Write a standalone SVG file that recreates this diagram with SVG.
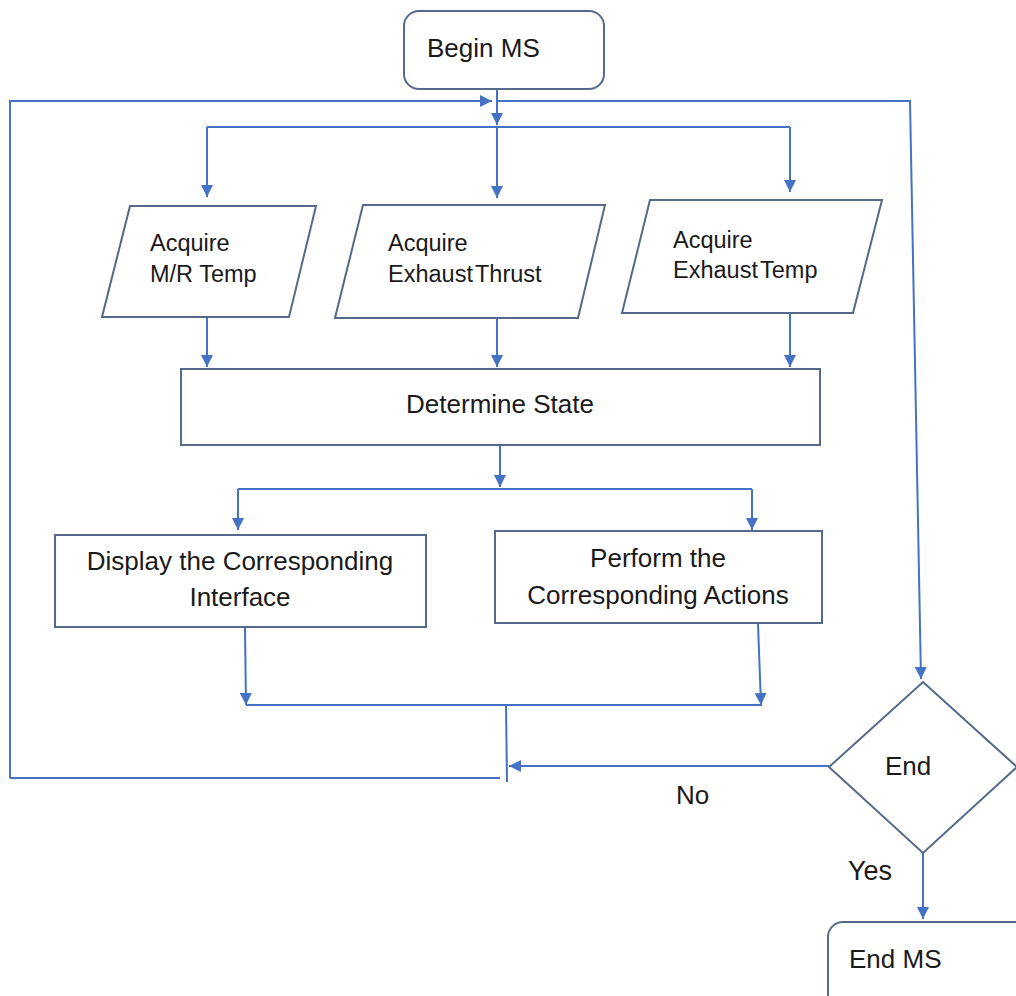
<svg xmlns="http://www.w3.org/2000/svg" width="1016" height="996" viewBox="0 0 1016 996">
<defs>
<style>
.node{fill:#fff;stroke:#56698a;stroke-width:2}
.c{fill:none;stroke:#4472c4;stroke-width:2}
text{font-family:"Liberation Sans",Arial,sans-serif;fill:#1a1a1a}
.big{font-size:26px}
.mid{font-size:23.5px}
.tight{word-spacing:-4px}
</style>
<marker id="ah" viewBox="0 0 10 10" refX="10" refY="5" markerWidth="12" markerHeight="12" markerUnits="userSpaceOnUse" orient="auto">
<path d="M0,0 L10,5 L0,10 z" fill="#4472c4"/>
</marker>
</defs>
<rect width="1016" height="996" fill="#fff"/>
<g id="connectors">
<path class="c" d="M10,778 L10,101 L492,101" marker-end="url(#ah)"/>
<path class="c" d="M497,55 L497,125" marker-end="url(#ah)"/>
<path class="c" d="M497,101 L910,101 L921,679" marker-end="url(#ah)"/>
<path class="c" d="M207,127 L790,127"/>
<path class="c" d="M207,127 L207,197" marker-end="url(#ah)"/>
<path class="c" d="M497,127 L497,198" marker-end="url(#ah)"/>
<path class="c" d="M790,127 L790,192" marker-end="url(#ah)"/>
<path class="c" d="M207,317 L207,367" marker-end="url(#ah)"/>
<path class="c" d="M497,318 L497,367" marker-end="url(#ah)"/>
<path class="c" d="M790,313 L790,367" marker-end="url(#ah)"/>
<path class="c" d="M500,445 L500,487" marker-end="url(#ah)"/>
<path class="c" d="M238,489 L752,489"/>
<path class="c" d="M238,489 L238,530" marker-end="url(#ah)"/>
<path class="c" d="M752,489 L752,530" marker-end="url(#ah)"/>
<path class="c" d="M245,628 L246,705" marker-end="url(#ah)"/>
<path class="c" d="M758,624 L761,705" marker-end="url(#ah)"/>
<path class="c" d="M246,705 L762,705"/>
<path class="c" d="M506,705 L507,782"/>
<path class="c" d="M829,766 L509,766" marker-end="url(#ah)"/>
<path class="c" d="M10,778 L500,778"/>
<path class="c" d="M923,853 L923,919" marker-end="url(#ah)"/>
</g>
<g id="begin">
<rect class="node" x="404" y="11" width="200" height="78" rx="15"/>
<text class="big" x="427" y="57">Begin MS</text>
</g>
<g id="acq-mr">
<polygon class="node" points="130,206 316,206 289,317 102,317"/>
<text class="mid" x="150" y="251">Acquire</text>
<text class="mid" x="150" y="282">M/R Temp</text>
</g>
<g id="acq-thrust">
<polygon class="node" points="363,205 605,205 578,318 335,318"/>
<text class="mid" x="388" y="251">Acquire</text>
<text class="mid tight" x="388" y="282">Exhaust Thrust</text>
</g>
<g id="acq-temp">
<polygon class="node" points="650,200 882,200 853,313 622,313"/>
<text class="mid" x="673" y="248">Acquire</text>
<text class="mid tight" x="673" y="278">Exhaust Temp</text>
</g>
<g id="determine">
<rect class="node" x="181" y="369" width="639" height="76"/>
<text class="big" x="500" y="413" text-anchor="middle">Determine State</text>
</g>
<g id="display">
<rect class="node" x="55" y="535" width="371" height="92"/>
<text class="big" x="240" y="570" text-anchor="middle">Display the Corresponding</text>
<text class="big" x="240" y="606" text-anchor="middle">Interface</text>
</g>
<g id="perform">
<rect class="node" x="495" y="531" width="327" height="92"/>
<text class="big" x="658" y="567" text-anchor="middle">Perform the</text>
<text class="big" x="658" y="604" text-anchor="middle">Corresponding Actions</text>
</g>
<g id="end-decision">
<polygon class="node" points="923,682 1017,767 923,853 829,767"/>
<text class="big" x="885" y="775">End</text>
</g>
<text class="big" x="676" y="804">No</text>
<text class="big" x="848" y="880" style="font-size:27px">Yes</text>
<g id="endms">
<rect class="node" x="828" y="922" width="220" height="100" rx="15"/>
<text class="big" x="849" y="968">End MS</text>
</g>
</svg>
